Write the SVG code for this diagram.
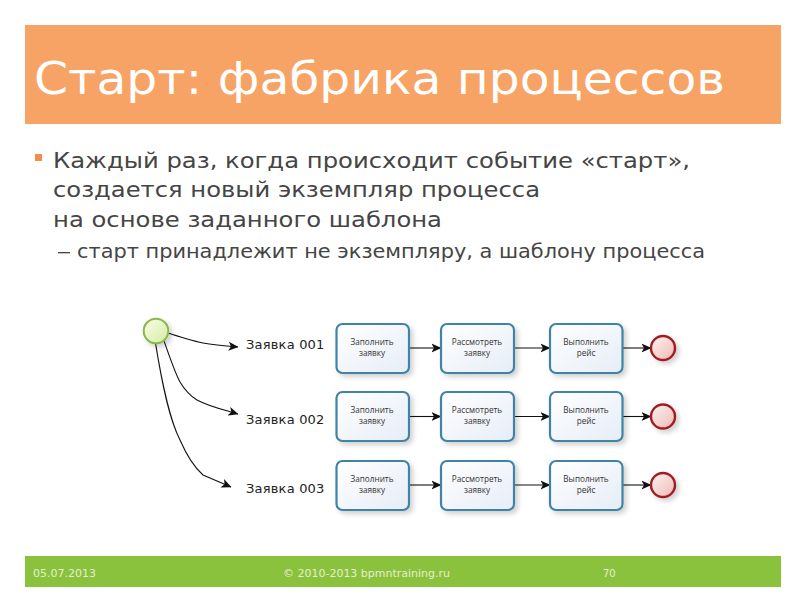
<svg xmlns="http://www.w3.org/2000/svg" width="800" height="600" viewBox="0 0 800 600">
<style>
text{font-family:"DejaVu Sans",sans-serif}
.b1{font-size:22px;fill:#454545}
.b2{font-size:19px;fill:#454545}
.f{font-size:10px;fill:#e4efd0}
.lab{font-size:13px;fill:#222;letter-spacing:.2px}
.t{font-size:8.200px;fill:#333;text-anchor:middle;font-family:"Open Sans",sans-serif}
.task{fill:url(#tg);stroke:#3f83a6;stroke-width:2.2;filter:url(#sh)}
.end{fill:url(#eg);stroke:#a01c22;stroke-width:2.4;filter:url(#sh)}
.c{fill:none;stroke:#111;stroke-width:1.1}
.a{marker-end:url(#ar)}
</style>
<defs>
<linearGradient id="tg" x1="0" y1="0" x2="1" y2="1"><stop offset="0" stop-color="#fff"/><stop offset="1" stop-color="#e6edf7"/></linearGradient>
<linearGradient id="eg" x1="0" y1="0" x2="1" y2="1"><stop offset="0" stop-color="#fdf3f1"/><stop offset="1" stop-color="#eeb9b5"/></linearGradient>
<linearGradient id="sg" x1="0" y1="0" x2="1" y2="1"><stop offset="0" stop-color="#fbfde8"/><stop offset="1" stop-color="#d5eba6"/></linearGradient>
<filter id="sh" x="-20%" y="-20%" width="150%" height="150%"><feDropShadow dx="3" dy="3" stdDeviation="2.500" flood-color="#000" flood-opacity=".18"/></filter>
<marker id="ar" viewBox="0 0 10 10" refX="9.500" refY="5" markerUnits="userSpaceOnUse" markerWidth="10" markerHeight="10" orient="auto"><path d="M0 0.500L10 5L0 9.500L2.500 5Z" fill="#111"/></marker>
</defs>
<rect width="800" height="600" fill="#fff"/>
<g id="header"><rect x="25" y="25" width="756" height="99" fill="#f7a365"/>
<text x="34" y="94" font-size="45" fill="#fff" textLength="691" lengthAdjust="spacingAndGlyphs">Старт: фабрика процессов</text></g>
<g id="body">
<rect x="35" y="154" width="7" height="7" fill="#f38d4c"/>
<text class="b1" x="53" y="168" textLength="637" lengthAdjust="spacingAndGlyphs">Каждый раз, когда происходит событие «старт»,</text>
<text class="b1" x="53" y="197" textLength="487" lengthAdjust="spacingAndGlyphs">создается новый экземпляр процесса</text>
<text class="b1" x="53" y="227" textLength="389" lengthAdjust="spacingAndGlyphs">на основе заданного шаблона</text>
<rect x="58" y="252" width="12" height="1.300" fill="#454545"/>
<text class="b2" x="77" y="258" textLength="628" lengthAdjust="spacingAndGlyphs">старт принадлежит не экземпляру, а шаблону процесса</text>
</g>
<g id="connectors">
<path class="c a" d="M165 332C180 337 193 341 203 343C214 345 226 346 238 347"/>
<path class="c a" d="M163 338C170 358 175 373 180 382C186 392 192 397 197 400C210 407 225 410 238 414"/>
<path class="c a" d="M155 340C163 390 170 420 180 440C187 456 195 468 203 475L231 487"/>
<path class="c a" d="M409 348H441"/><path class="c a" d="M514 348H550"/><path class="c a" d="M623 348H651"/>
<path class="c a" d="M409 416.500H441"/><path class="c a" d="M514 416.500H550"/><path class="c a" d="M623 416.500H651"/>
<path class="c a" d="M409 485H441"/><path class="c a" d="M514 485H550"/><path class="c a" d="M623 485H651"/>
</g>
<g id="start"><circle cx="156" cy="331" r="12.300" fill="url(#sg)" stroke="#8ab84c" stroke-width="2" filter="url(#sh)"/></g>
<g id="label1"><text class="lab" x="246" y="349">Заявка 001</text></g>
<g id="label2"><text class="lab" x="246" y="424">Заявка 002</text></g>
<g id="label3"><text class="lab" x="246" y="493">Заявка 003</text></g>
<g id="t11"><rect class="task" x="336.500" y="324" width="72.500" height="49" rx="6"/><text class="t" x="372" y="345">Заполнить</text><text class="t" x="372" y="356">заявку</text></g>
<g id="t12"><rect class="task" x="441" y="324" width="73" height="49" rx="6"/><text class="t" x="477" y="345">Рассмотреть</text><text class="t" x="477" y="356">заявку</text></g>
<g id="t13"><rect class="task" x="550" y="324" width="72.500" height="49" rx="6"/><text class="t" x="586" y="345">Выполнить</text><text class="t" x="586" y="356">рейс</text></g>
<g id="e1"><circle class="end" cx="663" cy="348" r="12"/></g>
<g id="t21"><rect class="task" x="336.500" y="392" width="72.500" height="49" rx="6"/><text class="t" x="372" y="413">Заполнить</text><text class="t" x="372" y="424">заявку</text></g>
<g id="t22"><rect class="task" x="441" y="392" width="73" height="49" rx="6"/><text class="t" x="477" y="413">Рассмотреть</text><text class="t" x="477" y="424">заявку</text></g>
<g id="t23"><rect class="task" x="550" y="392" width="72.500" height="49" rx="6"/><text class="t" x="586" y="413">Выполнить</text><text class="t" x="586" y="424">рейс</text></g>
<g id="e2"><circle class="end" cx="663" cy="416.500" r="12"/></g>
<g id="t31"><rect class="task" x="336.500" y="461" width="72.500" height="49" rx="6"/><text class="t" x="372" y="482">Заполнить</text><text class="t" x="372" y="493">заявку</text></g>
<g id="t32"><rect class="task" x="441" y="461" width="73" height="49" rx="6"/><text class="t" x="477" y="482">Рассмотреть</text><text class="t" x="477" y="493">заявку</text></g>
<g id="t33"><rect class="task" x="550" y="461" width="72.500" height="49" rx="6"/><text class="t" x="586" y="482">Выполнить</text><text class="t" x="586" y="493">рейс</text></g>
<g id="e3"><circle class="end" cx="663" cy="485" r="12"/></g>
<g id="footer"><rect x="25" y="556" width="756" height="31" fill="#8bc23d"/>
<text class="f" x="33" y="577" textLength="63" lengthAdjust="spacingAndGlyphs">05.07.2013</text>
<text class="f" x="283" y="577" textLength="167" lengthAdjust="spacingAndGlyphs">© 2010-2013 bpmntraining.ru</text>
<text class="f" x="603" y="577">70</text></g>
</svg>
